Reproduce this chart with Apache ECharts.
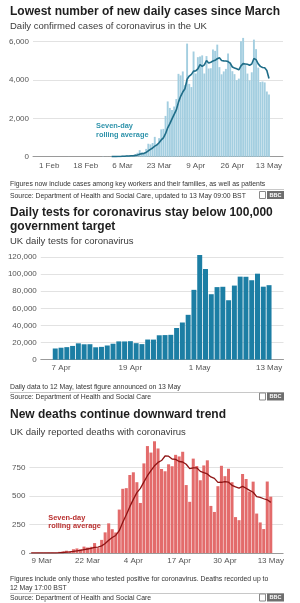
<!DOCTYPE html>
<html><head><meta charset="utf-8">
<script src="https://cdn.jsdelivr.net/npm/echarts@6/dist/echarts.min.js"></script>
<style>html,body{margin:0;padding:0;background:#fff}#c{width:300px;height:603px}</style>
</head><body><div id="c"></div>
<script>
// ---------- Chart 1: daily confirmed cases ----------
const caseAxisStart = '2020-01-25', caseAxisEnd = '2020-05-19';
const caseStart = '2020-01-25';
const caseDaily = [
  0,0,0,0,0,0,2,                                   // 25-31 Jan
  0,0,0,0,0,1,0,0,0,4,1,0,0,0,0,0,0,0,0,0,0,0,0,0,0,4,2,5,3, // Feb
  13,4,11,36,29,48,45,69,43,62,77,134,204,342,232,171,407,676,643,714,1035,665,967,1427,1452,2129,2885,2546,2433,2619,3009, // Mar
  4324,4244,4450,3735,5903,3802,3634,5491,4344,5195,5233,5288,4342,5252,4603,4617,5599,5525,5850,4676,4301,4451,4583,5386,4913,4463,4309,3996,4076,6032, // Apr
  6201,4806,4339,3985,4406,6111,5614,4649,3896,3923,3877,3403,3242 // May
];
const caseAvgStart = '2020-03-01';
const caseAvg = [
  4,4,6,11,14,21,27,35,40,47,53,68,91,133,156,175,224,309,382,455,554,616,730,875,986,1198,1509,1724,1977,2213,2439,
  2849,3151,3375,3545,4041,4210,4299,4466,4480,4586,4800,4712,4790,5021,4894,4933,4991,5032,5113,5160,5024,5003,4998,4967,4880,4682,4629,4586,4532,4739,
  4856,4840,4823,4776,4835,5126,5066,4844,4714,4655,4639,4496,4086
];
const caseTicks = ['1 Feb','18 Feb','6 Mar','23 Mar','9 Apr','26 Apr','13 May'];

// ---------- Chart 2: daily tests ----------
const testAxisStart = '2020-04-04', testAxisEnd = '2020-05-15';
const testStart = '2020-04-06';
const testDaily = [
  13100,14006,14682,16095,19116,18000,18091,14506,14982,16603,18665,21389,21328,21626,19316,18206,23560,23480,28532,28760,29058,37024,43453,52429,81611,
  122347,105937,76496,84806,85186,69463,86583,97029,96878,92837,100490,85293,87063
];
const testTicks = ['7 Apr','19 Apr','1 May','13 May'];

// ---------- Chart 3: daily deaths ----------
const deathAxisStart = '2020-03-06', deathAxisEnd = '2020-05-16';
const deathStart = '2020-03-06';
const deathDaily = [
  1,0,1,1,1,2,2,1,10,14,20,16,33,40,33,56,48,54,87,43,115,181,260,209,180,381,
  563,569,684,708,621,439,786,938,881,980,917,737,717,778,761,861,847,888,596,449,828,763,638,768,813,413,360,586,765,674,
  739,621,315,288,693,649,539,626,346,268,210,627,494
];
const deathAvg = [
  0.3,0.3,0.4,0.6,0.7,1.0,1.1,1.1,2.6,4.4,7.1,9.3,13.7,19.1,23.7,30.3,35.1,40,50.1,51.6,62.3,83.4,112.6,135.6,153.6,195.6,
  269.9,334.7,406.6,470.6,529.4,566.4,624.3,677.9,722.4,764.7,794.6,811.1,850.9,849.7,824.4,821.6,802.6,798.4,778.3,740,747.1,747.4,715.6,704.3,693.6,667.4,654.7,620.1,620.4,625.6,
  621.4,594,580,569.7,585,568.4,549.1,533,493.7,487,475.9,466.4,444.3
];
const deathTicks = ['9 Mar','22 Mar','4 Apr','17 Apr','30 Apr','13 May'];

// ---------- helpers ----------
const MON = ['Jan','Feb','Mar','Apr','May','Jun'];
function lab(d){ return d.getUTCDate() + ' ' + MON[d.getUTCMonth()]; }
function dateRange(a, b){
  const out = []; let d = new Date(a + 'T00:00:00Z'); const e = new Date(b + 'T00:00:00Z');
  while (d <= e) { out.push(lab(d)); d = new Date(d.getTime() + 864e5); }
  return out;
}
function align(values, start, cats){
  const off = cats.indexOf(lab(new Date(start + 'T00:00:00Z')));
  return cats.map((c, i) => (i - off >= 0 && i - off < values.length) ? values[i - off] : null);
}
const FF = '"Liberation Sans", Arial, Helvetica, sans-serif';
const caseCats = dateRange(caseAxisStart, caseAxisEnd);
const testCats = dateRange(testAxisStart, testAxisEnd);
const deathCats = dateRange(deathAxisStart, deathAxisEnd);

function xAx(gi, cats, ticks, margin){
  const f = (i, v) => ticks.indexOf(v) >= 0;
  return {type:'category', gridIndex:gi, data:cats, boundaryGap:true,
    axisLine:{lineStyle:{color:'#9a9a9a', width:1}},
    axisTick:{interval:f, alignWithLabel:true, length:3, lineStyle:{color:'#9a9a9a'}},
    axisLabel:{interval:f, fontSize:8, color:'#555', margin:margin, fontFamily:FF},
    splitLine:{show:false}};
}
function yAx(gi, max, interval){
  return {type:'value', gridIndex:gi, min:0, max:max, interval:interval,
    axisLine:{show:false}, axisTick:{show:false},
    splitLine:{show:true, showMaxLine:false, lineStyle:{color:'#e2e2e2', width:1}},
    axisLabel:{fontSize:8, color:'#555', margin:4, fontFamily:FF, showMaxLabel:false,
      formatter: v => (v % interval === 0 ? v.toLocaleString('en-US') : '')}};
}
function txt(x, y, s, font, fill, align){
  return {type:'text', x:x, y:y, silent:true, z:100,
    style:{text:s, font:font, fill:fill, textAlign:align || 'left', textVerticalAlign:'middle', verticalAlign:'middle'}};
}
function hline(y){ return {type:'line', silent:true, shape:{x1:10,y1:y,x2:284,y2:y}, style:{stroke:'#c8c8c8', lineWidth:1}}; }
function bbc(y){
  return [
    {type:'rect', silent:true, shape:{x:259.5,y:y-0.5,width:6,height:7}, style:{fill:'#fff', stroke:'#8a8a8a', lineWidth:1}},
    {type:'rect', silent:true, shape:{x:267,y:y-1,width:17,height:8}, style:{fill:'#6e6e6e'}},
    txt(275.5, y+3, 'BBC', 'bold 5.5px ' + FF, '#fff', 'center')
  ];
}
const TB = 'bold 12px ' + FF, ST = '9.5px ' + FF, FN = '6.85px ' + FF, AN = 'bold 7.4px ' + FF;

const graphics = [
  txt(10, 11.5, 'Lowest number of new daily cases since March', TB, '#1e1e1e'),
  txt(10, 26, 'Daily confirmed cases of coronavirus in the UK', ST, '#3a3a3a'),
  txt(96, 126.3, 'Seven-day', AN, '#2f93ab'),
  txt(96, 134.7, 'rolling average', AN, '#2f93ab'),
  txt(10, 184, 'Figures now include cases among key workers and their families, as well as patients', FN, '#333'),
  hline(189.5),
  txt(10, 196, 'Source: Department of Health and Social Care, updated to 13 May 09:00 BST', FN, '#333'),
  ...bbc(192),

  txt(10, 212.5, 'Daily tests for coronavirus stay below 100,000', TB, '#1e1e1e'),
  txt(10, 226.5, 'government target', TB, '#1e1e1e'),
  txt(10, 241.5, 'UK daily tests for coronavirus', ST, '#3a3a3a'),
  txt(10, 386.7, 'Daily data to 12 May, latest figure announced on 13 May', FN, '#333'),
  hline(392.5),
  txt(10, 397.5, 'Source: Department of Health and Social Care', FN, '#333'),
  ...bbc(393.5),

  txt(10, 414.5, 'New deaths continue downward trend', TB, '#1e1e1e'),
  txt(10, 432, 'UK daily reported deaths with coronavirus', ST, '#3a3a3a'),
  txt(48.3, 518, 'Seven-day', AN, '#b9302f'),
  txt(48.3, 525.5, 'rolling average', AN, '#b9302f'),
  txt(10, 579, 'Figures include only those who tested positive for coronavirus. Deaths recorded up to', FN, '#333'),
  txt(10, 587.7, '12 May 17:00 BST', FN, '#333'),
  hline(593.5),
  txt(10, 598.5, 'Source: Department of Health and Social Care', FN, '#333'),
  ...bbc(594.5)
];

const chart = echarts.init(document.getElementById('c'), null, {renderer:'canvas'});
chart.setOption({
  animation:false,
  backgroundColor:'#fff',
  grid:[
    {left:33, top:36, width:250, height:120.7},
    {left:40.8, top:252.7, width:242.7, height:107},
    {left:29.4, top:439, width:253.7, height:114}
  ],
  xAxis:[ xAx(0, caseCats, caseTicks, 5), xAx(1, testCats, testTicks, 4.5), xAx(2, deathCats, deathTicks, 3.5) ],
  yAxis:[ yAx(0, 6300, 2000), yAx(1, 125000, 20000), yAx(2, 1000, 250) ],
  series:[
    {type:'bar', xAxisIndex:0, yAxisIndex:0, data:align(caseDaily, caseStart, caseCats), barCategoryGap:'12%',
      itemStyle:{color:'#a3cee0'}, silent:true},
    {type:'line', xAxisIndex:0, yAxisIndex:0, data:align(caseAvg, caseAvgStart, caseCats), symbol:'none',
      lineStyle:{color:'#1f6d88', width:1.6}, z:5, silent:true},
    {type:'bar', xAxisIndex:1, yAxisIndex:1, data:align(testDaily, testStart, testCats), barCategoryGap:'14%',
      itemStyle:{color:'#1c7ea4'}, silent:true},
    {type:'bar', xAxisIndex:2, yAxisIndex:2, data:align(deathDaily, deathStart, deathCats), barCategoryGap:'14%',
      itemStyle:{color:'#e36b6b'}, silent:true},
    {type:'line', xAxisIndex:2, yAxisIndex:2, data:align(deathAvg, deathStart, deathCats), symbol:'none',
      lineStyle:{color:'#8e1414', width:1.3}, z:5, silent:true}
  ],
  graphic:{elements:graphics}
});
</script></body></html>
